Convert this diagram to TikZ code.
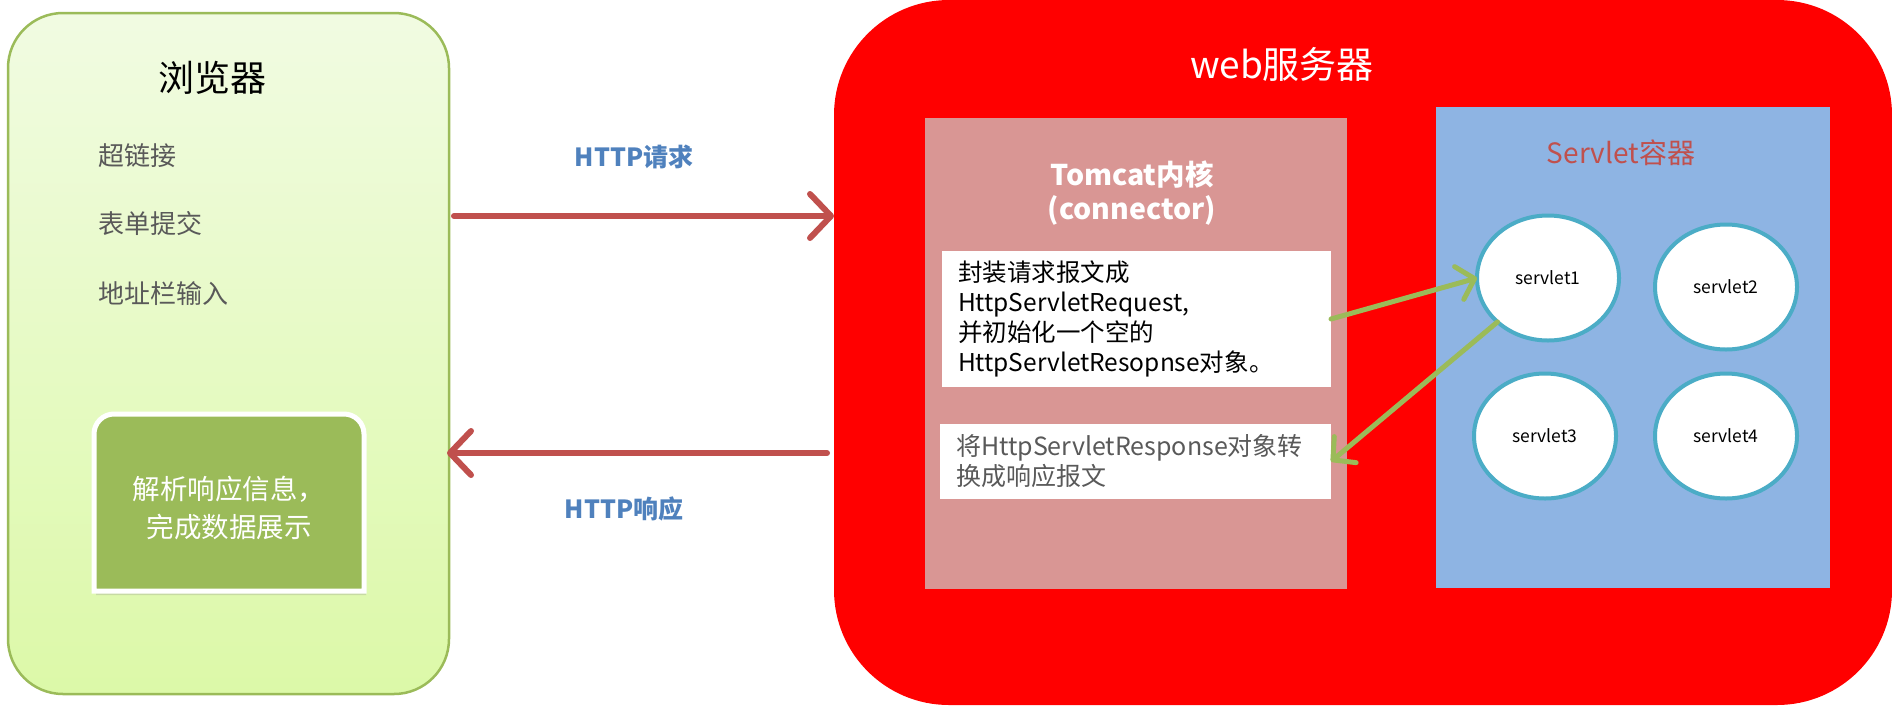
\documentclass[tikz,border=0pt]{standalone}
\usepackage{fontspec}
\setmainfont{Noto Sans CJK SC}
\usetikzlibrary{arrows.meta,positioning,shapes.geometric,shadows}

\definecolor{browsertop}{HTML}{F1FBE2}
\definecolor{browserbottom}{HTML}{DCF9A8}
\definecolor{leaf}{HTML}{9BBB59}
\definecolor{brick}{HTML}{C0504D}
\definecolor{linkblue}{HTML}{4F81BD}
\definecolor{tomcatpink}{HTML}{D99694}
\definecolor{servletblue}{HTML}{8EB4E3}
\definecolor{ringteal}{HTML}{4BACC6}
\definecolor{textgray}{HTML}{595959}

\begin{document}
\begin{tikzpicture}[x=1pt, y=-1pt,
        every node/.style={inner sep=0pt, outer sep=0pt},
        browserpanel/.style={rounded corners=55pt, draw=leaf, line width=2.5pt, top color=browsertop, bottom color=browserbottom, minimum width=441pt, minimum height=681pt},
        serverpanel/.style={rounded corners=115pt, fill=red, minimum width=1058pt, minimum height=705pt},
        item/.style={anchor=west, text=textgray, font=\fontsize{26}{30}\selectfont},
        httplabel/.style={text=linkblue, font=\fontsize{25}{28}\selectfont\bfseries},
        httparrow/.style={-{Straight Barb[length=21pt, width=44pt, round]}, draw=brick, line width=6pt, line cap=round},
        callarrow/.style={-{Straight Barb[length=16pt, width=34pt, round]}, draw=leaf, line width=5pt, line cap=round},
        notebox/.style={fill=white, align=left, inner xsep=16pt, font=\fontsize{24.5}{30}\selectfont},
        servlet/.style={ellipse, draw=ringteal, line width=4pt, fill=white, minimum width=142pt, minimum height=125pt, font=\fontsize{17.5}{20}\selectfont}
    ]
    \useasboundingbox (0,0) rectangle (1892,705);

    % browser side
    \node[browserpanel] (browser) at (228.5,353.5) {};
    \node[font=\fontsize{36}{40}\selectfont] (browsertitle) at (212,78) {浏览器};
    \node[item] (hyperlink) at (98,156) {超链接};
    \node[item] (formsubmit) at (98,224) {表单提交};
    \node[item] (addressbar) at (98,294) {地址栏输入};

    \node[minimum width=270pt, minimum height=177pt] (parse) at (229,502.5) {};
    \filldraw[fill=leaf, draw=white, line width=5pt, drop shadow={shadow xshift=2pt, shadow yshift=-4pt, opacity=0.25}]
        (parse.south west) [rounded corners=20pt] -- (parse.north west) -- (parse.north east) [sharp corners] -- (parse.south east) -- cycle;
    \node[text=white, align=center, font=\fontsize{27.5}{38}\selectfont] (parsetext) at ([yshift=-5pt]parse.center) {解析响应信息，\\ 完成数据展示};

    % web server side
    \node[serverpanel] (server) at (1363,352.5) {};
    \node[text=white, font=\fontsize{37}{40}\selectfont] (servertitle) at (1282,64) {web服务器};

    \node[fill=tomcatpink, minimum width=422pt, minimum height=471pt] (tomcat) at (1136,353.5) {};
    \node[text=white, align=center, font=\fontsize{28.5}{34}\selectfont\bfseries] (tomcattitle) at (1132,193) {Tomcat内核\\(connector)};
    \node[notebox, minimum width=389pt, minimum height=136pt, text width=357pt] (wrap) at (1136.5,319)
        {封装请求报文成\\HttpServletRequest,\\并初始化一个空的\\HttpServletResopnse对象。};
    \node[notebox, minimum width=391pt, minimum height=75pt, text width=359pt, text=textgray, font=\fontsize{25}{30}\selectfont] (convert) at (1135.5,461.5)
        {将HttpServletResponse对象转\\换成响应报文};

    \node[fill=servletblue, minimum width=394pt, minimum height=481pt] (container) at (1633,347.5) {};
    \node[text=brick, font=\fontsize{28}{32}\selectfont] (containertitle) at (1621,153) {Servlet容器};
    \node[servlet] (servlet1) at (1548,278) {servlet1};
    \node[servlet] (servlet2) at (1726,287) {servlet2};
    \node[servlet] (servlet3) at (1545,436) {servlet3};
    \node[servlet] (servlet4) at (1726,436) {servlet4};

    % request / response
    \node[httplabel] (reqlabel) at (634,157) {HTTP请求};
    \node[httplabel] (resplabel) at (624,509) {HTTP响应};
    \draw[httparrow] ([xshift=5pt]browser.east |- 0,216) -- (server.west |- 0,216);
    \draw[httparrow] ([xshift=-7pt]server.west |- 0,453) -- ([xshift=-2pt]browser.east |- 0,453);

    \draw[callarrow] (wrap.east) -- (servlet1.west);
    \draw[callarrow] (servlet1.221) -- (convert.east);
\end{tikzpicture}
\end{document}
